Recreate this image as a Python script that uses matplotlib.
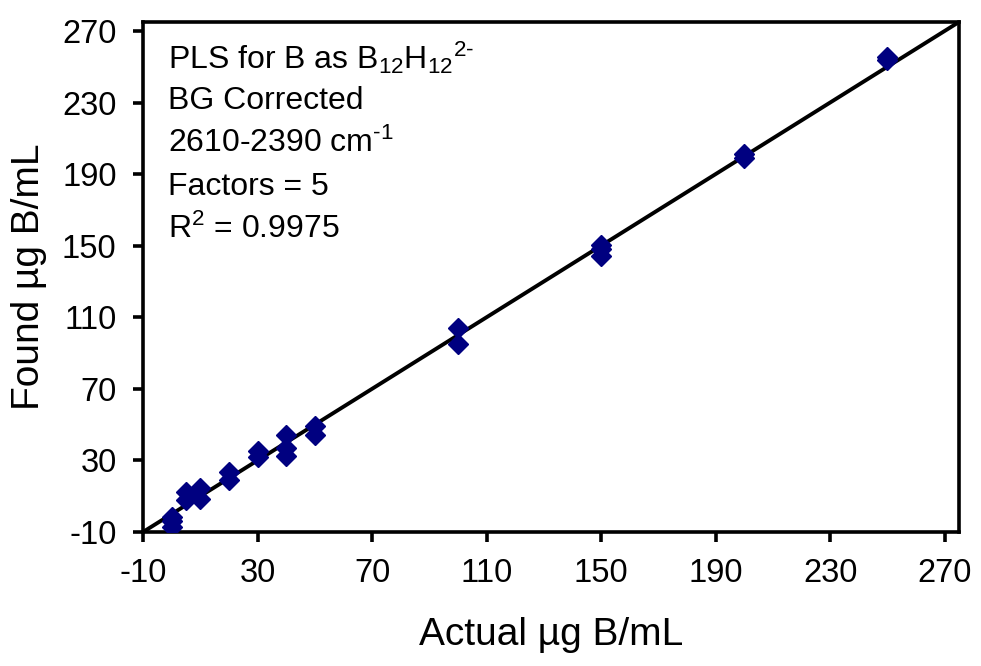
import matplotlib
matplotlib.use("Agg")
import matplotlib.pyplot as plt
import numpy as np

plt.rcParams['font.family'] = ['Liberation Sans', 'DejaVu Sans']
plt.rcParams['mathtext.default'] = 'regular'
plt.rcParams['axes.unicode_minus'] = False

# data (actual vs found, ug B/mL)
actual = [0, 0, 0, 5, 5, 10, 10, 20, 20, 30, 30, 40, 40, 40, 50, 50,
          100, 100, 150, 150, 150, 200, 200, 250, 250]
found = [-1.5, -4, -7, 12.5, 8, 14.5, 8.5, 23.5, 19, 35.5, 32, 44, 37, 32.5,
         49.5, 44, 104, 95, 150.5, 148, 144, 201, 199, 255.5, 253.5]

fit_x = [-10, 275]
fit_y = [-10, 275]

ticks = [-10, 30, 70, 110, 150, 190, 230, 270]

info_lines = ['PLS for B as B$_{12}$H$_{12}$$^{2\u2010}$',
              'BG Corrected',
              '2610-2390 cm$^{\u20101}$',
              'Factors = 5',
              'R$^{2}$ = 0.9975']

fig = plt.figure(figsize=(9.81, 6.66), dpi=100)
ax = fig.add_axes([143 / 981, 1 - 532 / 666, 816 / 981, 510 / 666])

ax.plot(fit_x, fit_y, color='black', linewidth=2.8, zorder=2)
ax.plot(actual, found, linestyle='none', marker='D', markersize=10.5,
        color='#000080', zorder=3)

ax.set_xlim(-10, 275)
ax.set_ylim(-10, 275)
ax.set_xticks(ticks)
ax.set_yticks(ticks)
ax.tick_params(direction='out', length=7, width=2.6, labelsize=23.5, pad=12)

for sp in ax.spines.values():
    sp.set_linewidth(2.6)

ax.set_xlabel('Actual µg B/mL', fontsize=28, labelpad=20)
ax.set_ylabel('Found µg B/mL', fontsize=28, labelpad=11)

# annotation block, one line at a time
for i, line in enumerate(info_lines):
    ax.text(0.031, 0.93 - i * 0.0843, line, transform=ax.transAxes,
            fontsize=23, va='center', ha='left')

fig.savefig('out.png', dpi=100)
